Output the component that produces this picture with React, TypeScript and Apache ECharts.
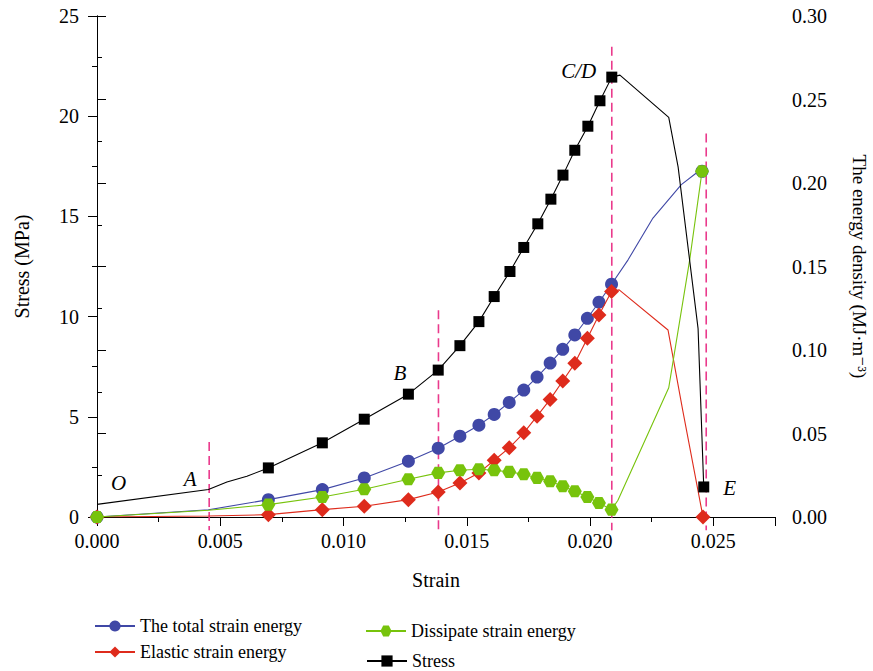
import React, { useEffect, useRef } from "react";
import * as echarts from "echarts";

// ---------- data ----------
const stressStrain = [0, 0.00452, 0.00527, 0.00608, 0.00695, 0.00914, 0.01084, 0.01263, 0.01384, 0.01472, 0.01549, 0.01611, 0.01675, 0.01731, 0.01788, 0.01841, 0.0189, 0.01938, 0.01991, 0.0204, 0.02088, 0.02121, 0.02319, 0.02357, 0.02438, 0.02461];
const stressValue = [0.63, 1.37, 1.75, 2.03, 2.45, 3.7, 4.88, 6.13, 7.33, 8.55, 9.75, 11.0, 12.25, 13.45, 14.63, 15.86, 17.06, 18.3, 19.5, 20.77, 21.95, 22.05, 19.94, 17.47, 9.4, 1.5];
const stressMarked = [false, false, false, false, true, true, true, true, true, true, true, true, true, true, true, true, true, true, true, true, true, false, false, false, false, true];

const energyStrain = [0, 0.00452, 0.00695, 0.00914, 0.01084, 0.01263, 0.01384, 0.01472, 0.01549, 0.01611, 0.01672, 0.01731, 0.01785, 0.01838, 0.01889, 0.01938, 0.01989, 0.02036, 0.02087];
const energyMarked = [true, false, true, true, true, true, true, true, true, true, true, true, true, true, true, true, true, true, true];
const totalEnergy = [0, 0.0043, 0.0104, 0.0164, 0.0234, 0.0334, 0.0412, 0.0484, 0.055, 0.0614, 0.0686, 0.076, 0.0838, 0.0922, 0.1004, 0.109, 0.119, 0.1286, 0.1394];
const elasticEnergy = [0, 0.0006, 0.0014, 0.0044, 0.0064, 0.0104, 0.015, 0.0204, 0.0264, 0.034, 0.0414, 0.0504, 0.0604, 0.0704, 0.0814, 0.092, 0.107, 0.121, 0.135];
const dissipatedEnergy = [0, 0.004, 0.0074, 0.012, 0.0166, 0.0226, 0.0264, 0.028, 0.0286, 0.028, 0.027, 0.0256, 0.0234, 0.0214, 0.0184, 0.0154, 0.012, 0.0084, 0.0044];

const totalTailStrain = [0.02154, 0.02255, 0.0237, 0.02431, 0.02454];
const totalTail = [0.154, 0.179, 0.199, 0.206, 0.207];
const elasticTailStrain = [0.02118, 0.02316, 0.02375, 0.02458];
const elasticTail = [0.136, 0.112, 0.0645, 0.0];
const dissTailStrain = [0.02113, 0.02319, 0.02404, 0.02454];
const dissTail = [0.01, 0.0774, 0.154, 0.207];

const stageStrain = [0.00455, 0.01385, 0.02088, 0.02471];
const stageLineTop = [3.74, 10.32, 23.47, 19.14];
const stageLineBottom = [-0.66, -0.66, -0.66, -0.66];

const stageNames = ["O", "A", "B", "C/D", "E"];
const stageLabelStrain = [0.000875, 0.00378, 0.01229, 0.01954, 0.02566];
const stageLabelStress = [1.71, 1.92, 7.19, 22.25, 1.47];

const seriesNames = ["The total strain energy", "Elastic strain energy", "Dissipate strain energy", "Stress"];

// ---------- styles ----------
const FONT = "'Liberation Serif', 'DejaVu Serif', serif";
const BLUE = "#4048a6";
const RED = "#de2b1c";
const GREEN = "#77c30c";
const BLACK = "#000000";
const PINK = "#ea3a8c";
const HEX = "path://M-5,0 L-2.5,-4.33 L2.5,-4.33 L5,0 L2.5,4.33 L-2.5,4.33 Z";

function build(xs: number[], ys: number[], marked: boolean[], tailX: number[], tailY: number[]) {
  const out: any[] = xs.map((x, i) => (marked[i] ? [x, ys[i]] : { value: [x, ys[i]], symbol: "none" }));
  tailX.forEach((x, i) => {
    const last = i === tailX.length - 1;
    out.push(last ? [x, tailY[i]] : { value: [x, tailY[i]], symbol: "none" });
  });
  return out;
}

export default function App() {
  const ref = useRef<HTMLDivElement>(null);
  useEffect(() => {
    if (!ref.current) return;
    const chart = echarts.init(ref.current, null, { renderer: "svg" });

    const stressData = stressStrain.map((x, i) =>
      stressMarked[i] ? [x, stressValue[i]] : { value: [x, stressValue[i]], symbol: "none" }
    );
    const axisText = { color: "#000", fontSize: 20, fontFamily: FONT };
    const legendBase = {
      itemWidth: 40,
      itemHeight: 14,
      padding: 0,
      textStyle: { color: "#000", fontSize: 18, fontFamily: FONT },
    };

    chart.setOption({
      animation: false,
      textStyle: { fontFamily: FONT },
      grid: { left: 97, right: 98, top: 16, bottom: 154, containLabel: false, outerBoundsMode: "none" },
      legend: [
        { ...legendBase, data: [seriesNames[0]], left: 94, top: 617 },
        { ...legendBase, data: [seriesNames[1]], left: 94, top: 643 },
        { ...legendBase, data: [seriesNames[2]], left: 365, top: 622 },
        { ...legendBase, data: [seriesNames[3]], left: 366, top: 652 },
      ],
      xAxis: [
        {
          type: "value",
          min: 0,
          max: 0.0275,
          interval: 0.005,
          axisLine: { show: true, lineStyle: { color: "#000", width: 1 } },
          axisTick: { show: true, length: 9, lineStyle: { color: "#000" } },
          splitLine: { show: false },
          axisLabel: {
            ...axisText,
            margin: 14,
            formatter: (v: number) =>
              Math.abs(v / 0.005 - Math.round(v / 0.005)) < 1e-6 ? v.toFixed(3) : "",
          },
          name: "Strain",
          nameLocation: "middle",
          nameGap: 53,
          nameTextStyle: { ...axisText },
        },
        {
          type: "value",
          min: 0,
          max: 0.0275,
          interval: 0.0025,
          position: "bottom",
          axisLine: { show: false },
          axisTick: { show: true, length: 5, lineStyle: { color: "#000" } },
          axisLabel: { show: false },
          splitLine: { show: false },
        },
      ],
      yAxis: [
        {
          type: "value",
          position: "left",
          min: 0,
          max: 25,
          interval: 5,
          axisLine: { show: true, lineStyle: { color: "#000", width: 1 } },
          axisTick: { show: true, length: 9, lineStyle: { color: "#000" } },
          minorTick: { show: true, splitNumber: 2, length: 5, lineStyle: { color: "#000" } },
          splitLine: { show: false },
          minorSplitLine: { show: false },
          axisLabel: { ...axisText, margin: 18 },
          name: "Stress (MPa)",
          nameLocation: "middle",
          nameGap: 65,
          nameRotate: 90,
          nameTextStyle: { ...axisText },
        },
        {
          type: "value",
          position: "right",
          min: 0,
          max: 0.3,
          interval: 0.05,
          axisLine: { show: true, lineStyle: { color: "#000", width: 1 } },
          axisTick: { show: true, length: 9, lineStyle: { color: "#000" } },
          minorTick: { show: true, splitNumber: 2, length: 5, lineStyle: { color: "#000" } },
          splitLine: { show: false },
          minorSplitLine: { show: false },
          axisLabel: { ...axisText, margin: 17, formatter: (v: number) => v.toFixed(2) },
          name: "The energy density (MJ·m\u207B\u00B3)",
          nameLocation: "middle",
          nameGap: 75,
          nameRotate: -90,
          nameTextStyle: { ...axisText, fontSize: 19 },
        },
      ],
      series: [
        {
          name: seriesNames[0],
          type: "line",
          xAxisIndex: 0,
          yAxisIndex: 1,
          data: build(energyStrain, totalEnergy, energyMarked, totalTailStrain, totalTail),
          symbol: "circle",
          symbolSize: 13,
          showAllSymbol: true,
          lineStyle: { color: BLUE, width: 1.1 },
          itemStyle: { color: BLUE },
          z: 2,
        },
        {
          name: seriesNames[1],
          type: "line",
          xAxisIndex: 0,
          yAxisIndex: 1,
          data: build(energyStrain, elasticEnergy, energyMarked, elasticTailStrain, elasticTail),
          symbol: "diamond",
          symbolSize: 15,
          showAllSymbol: true,
          lineStyle: { color: RED, width: 1.1 },
          itemStyle: { color: RED },
          z: 3,
        },
        {
          name: seriesNames[2],
          type: "line",
          xAxisIndex: 0,
          yAxisIndex: 1,
          data: build(energyStrain, dissipatedEnergy, energyMarked, dissTailStrain, dissTail),
          symbol: HEX,
          symbolKeepAspect: true,
          symbolSize: 14,
          showAllSymbol: true,
          lineStyle: { color: GREEN, width: 1.1 },
          itemStyle: { color: GREEN },
          z: 4,
        },
        {
          name: seriesNames[3],
          type: "line",
          xAxisIndex: 0,
          yAxisIndex: 0,
          data: stressData,
          symbol: "rect",
          symbolSize: 11,
          showAllSymbol: true,
          lineStyle: { color: BLACK, width: 1.1 },
          itemStyle: { color: BLACK },
          z: 5,
        },
        {
          type: "custom",
          xAxisIndex: 0,
          yAxisIndex: 0,
          clip: false,
          silent: true,
          z: 1,
          data: stageStrain.map((x, i) => [x, stageLineTop[i], stageLineBottom[i]]),
          renderItem: (params: any, api: any) => {
            const a = api.coord([api.value(0), api.value(1)]);
            const b = api.coord([api.value(0), api.value(2)]);
            return {
              type: "line",
              shape: { x1: a[0], y1: a[1], x2: b[0], y2: b[1] },
              style: { stroke: PINK, lineWidth: 1.6, lineDash: [9, 5], fill: null },
            };
          },
        },
        {
          type: "custom",
          xAxisIndex: 0,
          yAxisIndex: 0,
          clip: false,
          silent: true,
          z: 6,
          data: stageLabelStrain.map((x, i) => [x, stageLabelStress[i]]),
          renderItem: (params: any, api: any) => {
            const p = api.coord([api.value(0), api.value(1)]);
            return {
              type: "text",
              x: p[0],
              y: p[1],
              style: {
                text: stageNames[params.dataIndex],
                fill: "#000",
                fontSize: 21,
                fontFamily: FONT,
                fontStyle: "italic",
                align: "center",
                verticalAlign: "middle",
              },
            };
          },
        },
      ],
    });
    return () => chart.dispose();
  }, []);
  return <div ref={ref} style={{ width: 873, height: 671, position: "absolute", left: 0, top: 0 }} />;
}
